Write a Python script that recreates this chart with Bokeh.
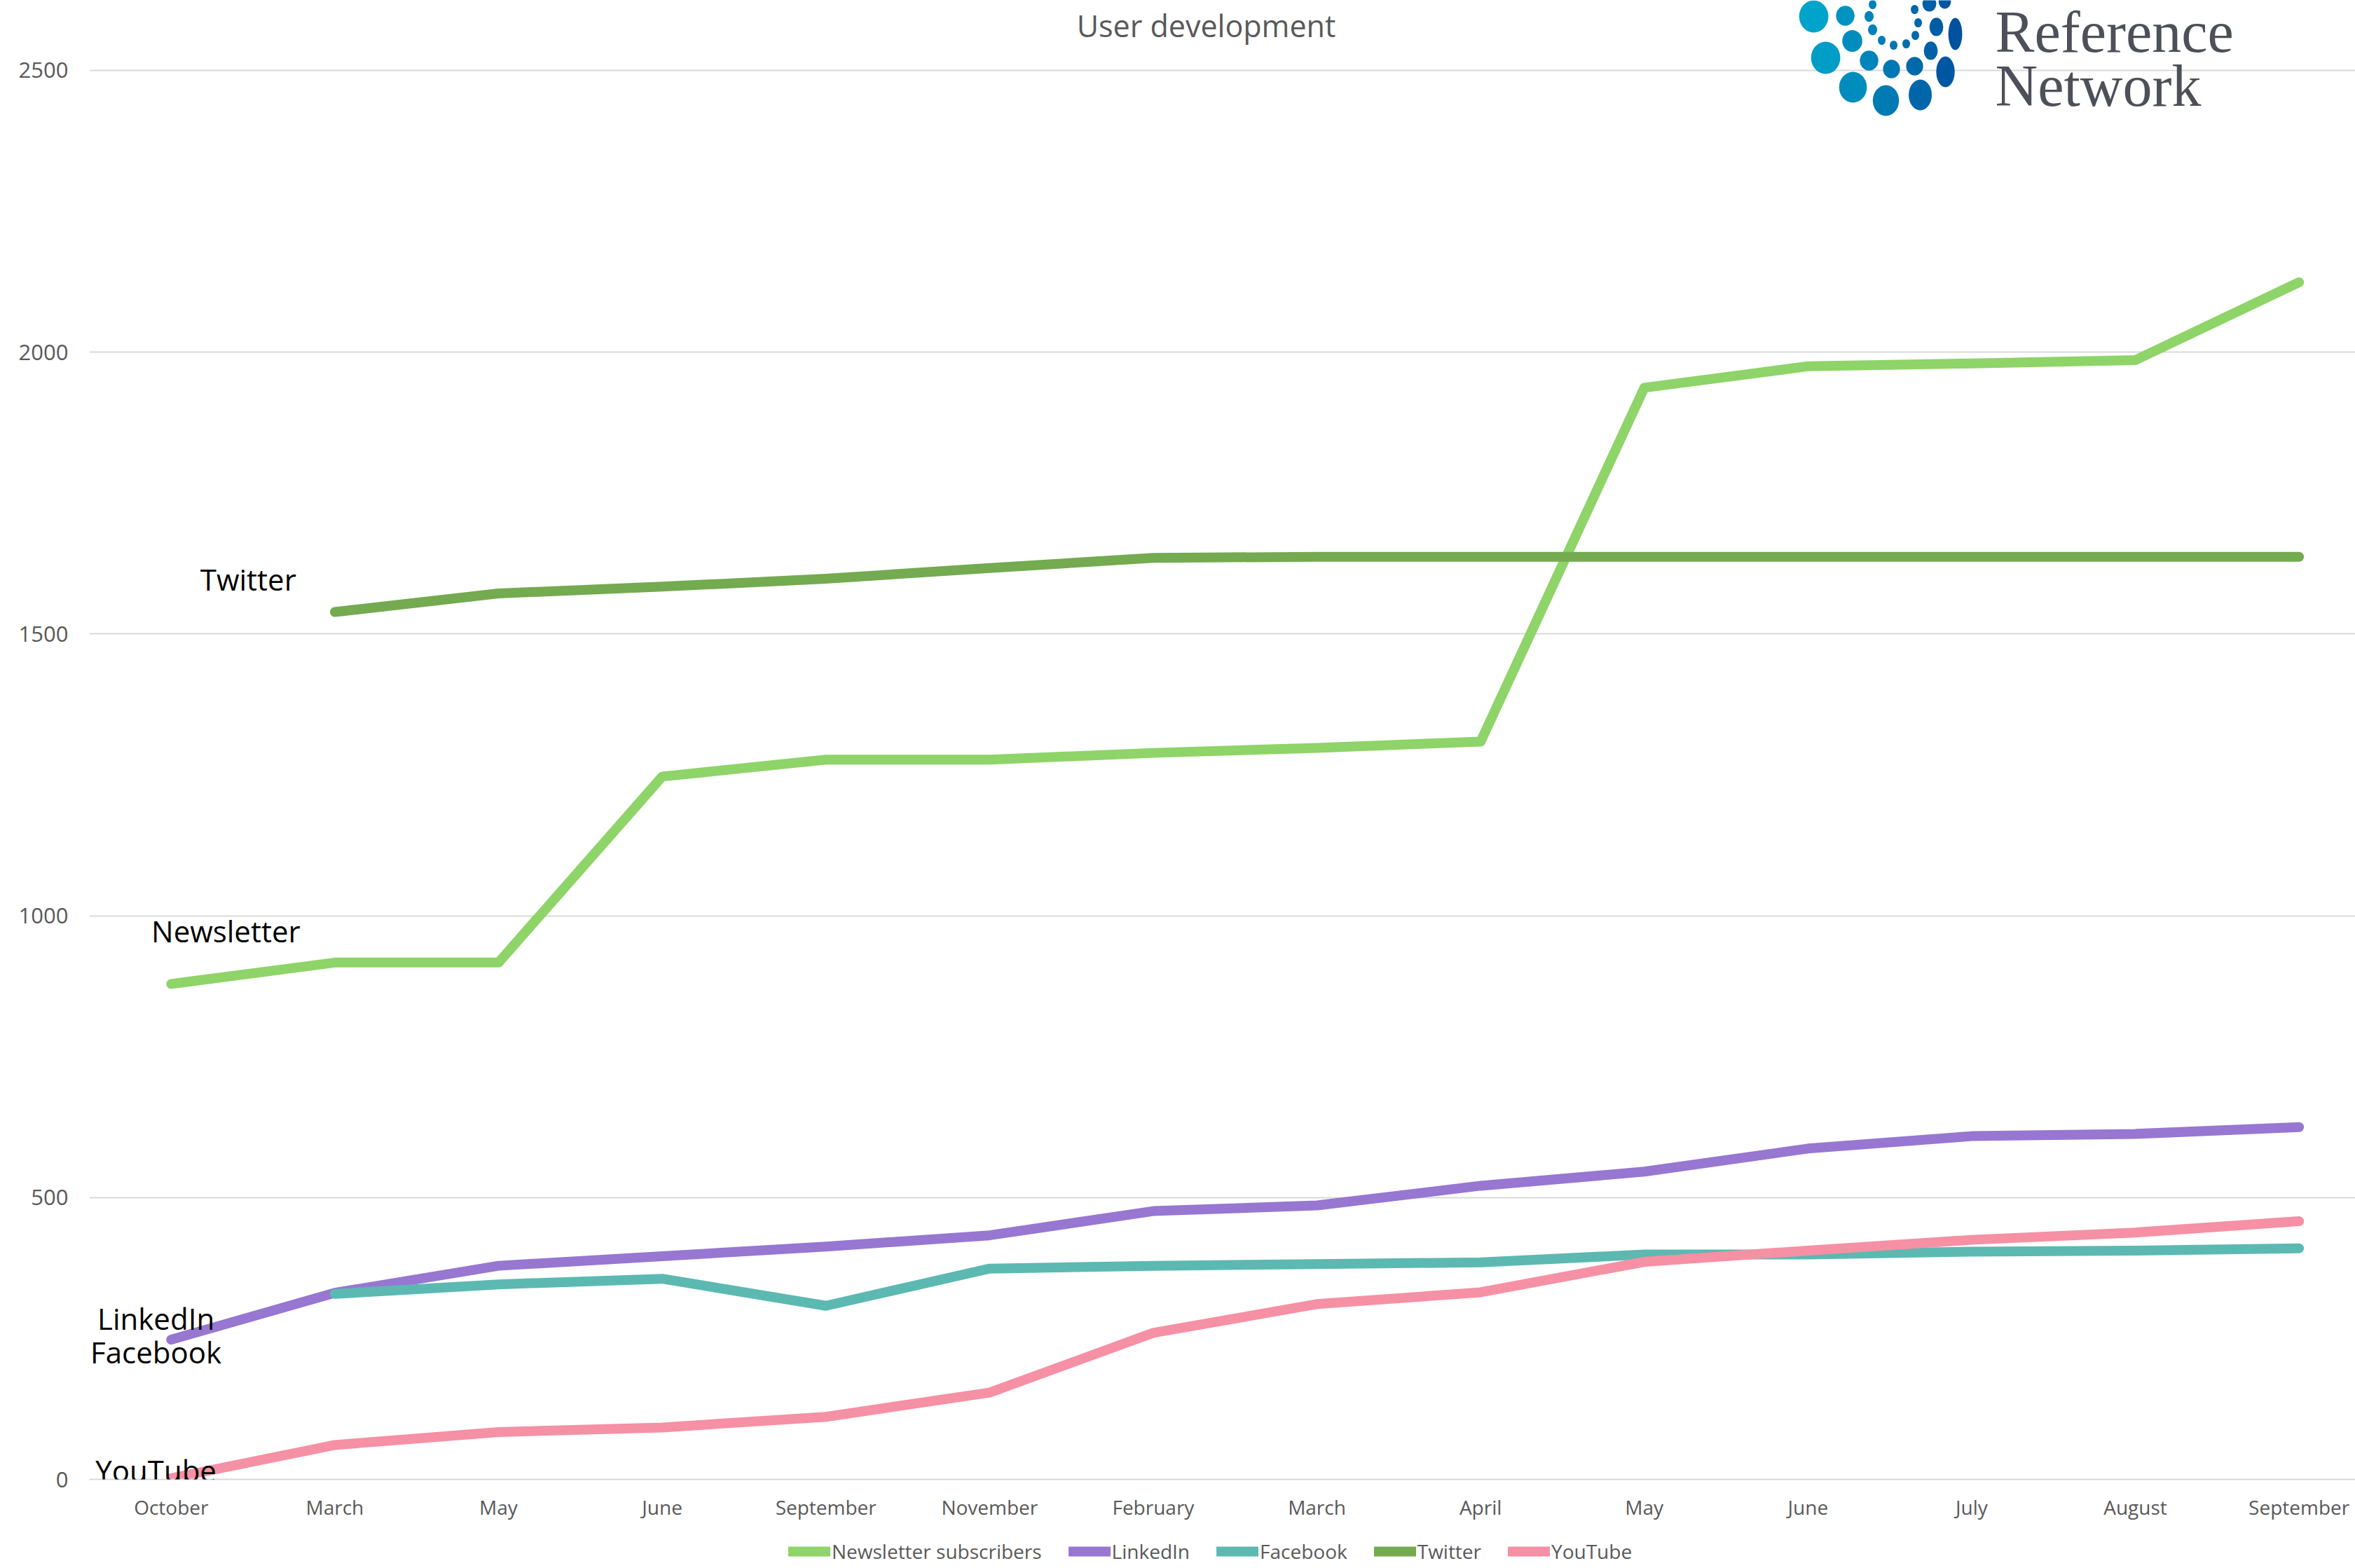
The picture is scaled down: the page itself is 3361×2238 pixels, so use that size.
from bokeh.plotting import figure
from bokeh.layouts import column
from bokeh.models import Range1d, FixedTicker, Label, Legend, LegendItem
from bokeh.embed import file_html
from bokeh.resources import INLINE

nan = float("nan")

# ---- data -------------------------------------------------------------
months = ["October", "March", "May", "June", "September", "November", "February",
          "March", "April", "May", "June", "July", "August", "September"]
newsletter = [879, 917, 917, 1247, 1277, 1277, 1289, 1298, 1309, 1937, 1975, 1980, 1986, 2124]
linkedin = [248, 331, 379, 396, 413, 433, 476, 486, 521, 546, 587, 609, 613, 625]
facebook = [nan, 329, 346, 356, 308, 374, 379, 382, 385, 399, 399, 404, 406, 410]
twitter = [nan, 1539, 1572, 1584, 1598, 1617, 1635, 1637, 1637, 1637, 1637, 1637, 1637, 1637]
youtube = [2, 61, 84, 92, 111, 154, 260, 311, 332, 386, 406, 425, 438, 458]
y_ticks = [0, 500, 1000, 1500, 2000, 2500]

series_names = ["Newsletter subscribers", "LinkedIn", "Facebook", "Twitter", "YouTube"]
series_values = [newsletter, linkedin, facebook, twitter, youtube]
series_colors = ["#8ED468", "#9777D1", "#5CB9B2", "#74AA50", "#F690A4"]

# ---- main figure ------------------------------------------------------
W = 3361
H_MAIN, H_LEG = 2180, 58
FONT = "Open Sans"
p = figure(width=W, height=H_MAIN, output_backend="svg", toolbar_location=None,
           x_range=Range1d(-0.5, 13.344), y_range=Range1d(0, 2624.3),
           min_border_left=127, min_border_right=0, min_border_top=0,
           min_border_bottom=69, title=None)
p.outline_line_color = None
p.background_fill_color = "white"
p.border_fill_color = "white"

p.xgrid.grid_line_color = None
p.ygrid.grid_line_color = "#d9d9d9"
p.ygrid.grid_line_width = 2
p.yaxis.ticker = FixedTicker(ticks=y_ticks)
p.yaxis.axis_line_color = None
p.yaxis.major_tick_line_color = None
p.yaxis.minor_tick_line_color = None
p.yaxis.major_tick_out = 0
p.yaxis.major_tick_in = 0
p.yaxis.major_label_standoff = 30
p.yaxis.major_label_text_font = FONT
p.yaxis.major_label_text_font_size = "31px"
p.yaxis.major_label_text_color = "#595959"

p.xaxis.ticker = FixedTicker(ticks=list(range(len(months))))
p.xaxis.major_label_overrides = {i: m for i, m in enumerate(months)}
p.xaxis.axis_line_color = "#d9d9d9"
p.xaxis.axis_line_width = 2
p.xaxis.major_tick_line_color = None
p.xaxis.minor_tick_line_color = None
p.xaxis.major_tick_out = 0
p.xaxis.major_tick_in = 0
p.xaxis.major_label_standoff = 20
p.xaxis.major_label_text_font = FONT
p.xaxis.major_label_text_font_size = "28px"
p.xaxis.major_label_text_color = "#595959"

xs = list(range(len(months)))
for name, vals, col in zip(series_names, series_values, series_colors):
    p.line(xs, vals, line_width=14, line_color=col, line_cap="round", line_join="round")

# ---- title ------------------------------------------------------------
p.add_layout(Label(x=1594, y=2075, x_units="screen", y_units="screen",
                   text="User development", text_align="center", text_baseline="middle",
                   text_font=FONT, text_font_size="43px", text_color="#595959"))

# ---- inline series labels ---------------------------------------------
inline = [("Twitter", 0.471, 1597), ("Newsletter", 0.334, 973),
          ("LinkedIn", -0.093, 286), ("Facebook", -0.093, 226), ("YouTube", -0.093, 16)]
for txt, lx, ly in inline:
    p.add_layout(Label(x=lx, y=ly, text=txt, text_align="center", text_baseline="middle",
                       text_font=FONT, text_font_size="42px", text_color="black"))

# ---- logo (decoration) ------------------------------------------------
def px2x(px):
    return (px - 243.8) / 233.6

def py2y(py):
    return (2111 - py) / 0.8044

dots = [(2588, 23, 19, 21), (2633, 22, 12, 13), (2643, 58, 13, 14), (2605, 82, 19, 21),
        (2667, 86, 12, 13), (2644, 124, 18, 20), (2691, 143, 17, 20), (2740, 135, 15, 20),
        (2699, 98, 11, 12), (2732, 94, 11, 12), (2776, 102, 12, 20), (2755, 72, 9, 12),
        (2763, 38, 9, 12), (2790, 48, 9, 21), (2667, 23, 6, 7), (2672, 42, 6, 7),
        (2685, 57, 5, 6), (2702, 64, 5, 6), (2720, 62, 5, 6), (2733, 50, 5, 6),
        (2737, 32, 5, 6), (2732, 13, 5, 6), (2672, 6, 5, 6), (2753, 5, 9, 10), (2775, 2, 8, 9)]

def blend(t):
    a = (0x00, 0xA4, 0xCA)
    b = (0x00, 0x52, 0x9E)
    c = [int(round(a[i] + (b[i] - a[i]) * t)) for i in range(3)]
    return "#%02x%02x%02x" % tuple(c)

p.ellipse(x=[px2x(d[0]) for d in dots], y=[py2y(d[1]) for d in dots],
          width=[2.2 * d[2] for d in dots], height=[2.2 * d[3] for d in dots],
          width_units="screen", height_units="screen",
          fill_color=[blend(min(1, max(0, (d[0] - 2588) / 200))) for d in dots],
          line_color=None)

p.add_layout(Label(x=2720, y=2066, x_units="screen", y_units="screen", text="Reference",
                   text_align="left", text_baseline="middle",
                   text_font="Liberation Serif", text_font_size="84px", text_color="#4d5058"))
p.add_layout(Label(x=2720, y=1989, x_units="screen", y_units="screen", text="Network",
                   text_align="left", text_baseline="middle",
                   text_font="Liberation Serif", text_font_size="84px", text_color="#4d5058"))

# ---- legend strip (same series, drawn outside its visible range) ------
lg = figure(width=W, height=H_LEG, output_backend="svg", toolbar_location=None,
            x_range=Range1d(100, 101), y_range=Range1d(0, 1),
            x_axis_type=None, y_axis_type=None,
            min_border_left=0, min_border_right=0, min_border_top=0, min_border_bottom=0,
            title=None)
lg.outline_line_color = None
lg.xgrid.visible = False
lg.ygrid.visible = False
leg_renderers = [lg.line(xs, vals, line_width=14, line_color=col, line_cap="round")
                 for vals, col in zip(series_values, series_colors)]
legend = Legend(items=[LegendItem(label=n, renderers=[r]) for n, r in zip(series_names, leg_renderers)],
                orientation="horizontal", location=(998, 5),
                glyph_width=60, glyph_height=30, label_height=30, label_standoff=2,
                spacing=38, padding=0, margin=0, border_line_color=None,
                background_fill_alpha=0, label_text_font=FONT,
                label_text_font_size="28px", label_text_color="#595959")
lg.add_layout(legend)

layout = column(p, lg, spacing=0)
open("out.html", "w").write(file_html(layout, INLINE))
